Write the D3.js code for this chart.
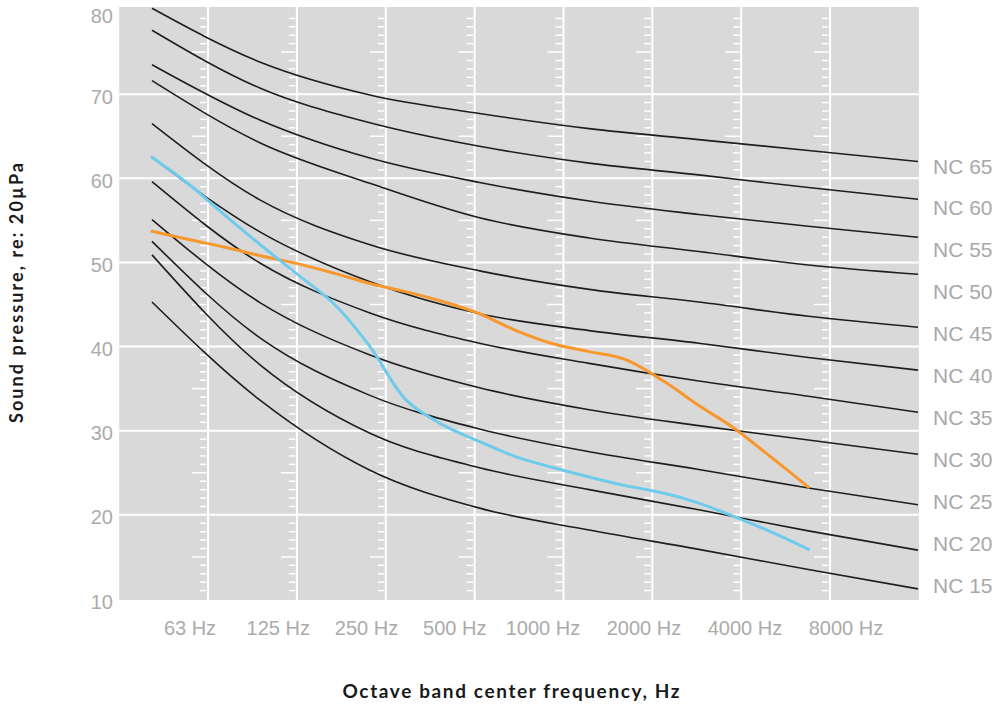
<!DOCTYPE html>
<html>
<head>
<meta charset="utf-8">
<script src="https://cdn.jsdelivr.net/npm/d3@7"></script>
<style>
  body { margin: 0; background: #fff; }
  svg { display: block; }
</style>
</head>
<body>
<svg id="chart"></svg>
<script>
// Octave bands (NC curves) and third-octave bands (measured spectra)
const bandHz = [63, 125, 250, 500, 1000, 2000, 4000, 8000];
const bandLabels = ["63 Hz", "125 Hz", "250 Hz", "500 Hz", "1000 Hz", "2000 Hz", "4000 Hz", "8000 Hz"];
const thirdOctHz = [63, 80, 100, 125, 160, 200, 250, 315, 400, 500, 630, 800, 1000, 1250, 1600, 2000, 2500, 3150, 4000];

// NC curves, dB at each octave band
const nc65 = [80.2, 73.8, 69.9, 67.7, 65.9, 64.6, 63.3, 62.0];
const nc60 = [77.6, 70.7, 66.6, 63.8, 61.8, 60.4, 58.9, 57.5];
const nc55 = [73.5, 66.9, 62.4, 59.5, 57.3, 55.7, 54.3, 53.0];
const nc50 = [71.6, 64.2, 59.4, 55.3, 52.9, 51.3, 49.7, 48.6];
const nc45 = [66.5, 57.4, 52.1, 49.0, 46.8, 45.3, 43.6, 42.3];
const nc40 = [62.5, 53.6, 47.7, 43.9, 41.9, 40.4, 38.7, 37.2];
const nc35 = [59.6, 49.9, 44.0, 40.4, 38.0, 35.9, 34.1, 32.2];
const nc30 = [55.1, 45.2, 39.0, 35.1, 32.5, 30.6, 28.9, 27.2];
const nc25 = [52.5, 41.0, 34.2, 30.2, 27.5, 25.4, 23.2, 21.2];
const nc20 = [50.9, 37.8, 29.7, 25.6, 23.0, 20.6, 18.1, 15.8];
const nc15 = [45.3, 33.6, 25.3, 20.8, 18.2, 15.9, 13.5, 11.2];
const ncNames = ["NC 65", "NC 60", "NC 55", "NC 50", "NC 45", "NC 40", "NC 35", "NC 30", "NC 25", "NC 20", "NC 15"];

// measured spectra
const blueSpectrum = [62.5, 59.2, 55.6, 52.1, 48.4, 45.0, 40.0, 33.6, 30.6, 28.7, 26.9, 25.6, 24.5, 23.5, 22.6, 21.4, 19.8, 18.0, 15.9];
const orangeSpectrum = [53.7, 52.7, 51.8, 50.8, 49.8, 48.7, 47.5, 46.5, 45.3, 43.9, 41.9, 40.3, 39.4, 38.5, 35.9, 33.0, 30.3, 26.9, 23.3];

const yTicks = [10, 20, 30, 40, 50, 60, 70, 80];

const width = 1000, height = 706;
const svg = d3.select("#chart").attr("width", width).attr("height", height);

// scales
const x = d3.scaleLog().base(2).domain([63, 8000]).range([152, 918]);
const gridX = d3.scaleLinear().domain([-1, 8]).range([119.2, 918.9]);
const labelX = d3.scaleLinear().domain([0, 4, 7]).range([190, 543, 846]);
const y = d3.scaleLinear().domain([10, 80]).range([599, 10]);
const ncLabelY = d3.scalePoint().domain(ncNames).range([166, 585]);

const plotTop = 7, plotBottom = 600;

// plot background
svg.append("rect")
    .attr("x", gridX(-1))
    .attr("y", plotTop)
    .attr("width", gridX(8) - gridX(-1))
    .attr("height", plotBottom - plotTop)
    .attr("fill", "#d9d9d9");

// horizontal grid
svg.append("g")
    .selectAll("line")
    .data(yTicks.filter(d => d > 10 && d < 80))
    .enter()
    .append("line")
    .attr("x1", gridX(-1))
    .attr("x2", gridX(8))
    .attr("y1", d => y(d))
    .attr("y2", d => y(d))
    .attr("stroke", "#fff")
    .attr("stroke-width", 2);

// vertical grid
const gridIdx = d3.range(0, 8);
svg.append("g")
    .selectAll("line")
    .data(gridIdx)
    .enter()
    .append("line")
    .attr("x1", d => gridX(d))
    .attr("x2", d => gridX(d))
    .attr("y1", plotTop)
    .attr("y2", plotBottom)
    .attr("stroke", "#fff")
    .attr("stroke-width", 2);

// little dB dashes to the left of every vertical grid line
const dashVals = d3.range(11, 80).filter(v => v % 10 !== 0);
const dashes = svg.append("g");
gridIdx.forEach(i => {
    dashes.selectAll(null)
        .data(dashVals)
        .enter()
        .append("line")
        .attr("x1", v => gridX(i) - (v % 5 === 0 ? 16 : 8))
        .attr("x2", gridX(i) - 1.5)
        .attr("y1", v => y(v))
        .attr("y2", v => y(v))
        .attr("stroke", "#fff")
        .attr("stroke-width", 1.5);
});

// y tick labels
svg.append("g")
    .selectAll("text")
    .data(yTicks)
    .enter()
    .append("text")
    .attr("x", 113)
    .attr("y", d => y(d) + (d === 80 ? 5 : 2))
    .attr("dy", "0.38em")
    .attr("text-anchor", "end")
    .attr("font-family", "Liberation Sans, Arial, sans-serif")
    .attr("font-size", 20)
    .attr("fill", "#ababab")
    .text(d => d);

// x tick labels
svg.append("g")
    .selectAll("text")
    .data(bandLabels)
    .enter()
    .append("text")
    .attr("x", (d, i) => labelX(i))
    .attr("y", 635)
    .attr("text-anchor", "middle")
    .attr("font-family", "Liberation Sans, Arial, sans-serif")
    .attr("font-size", 20)
    .attr("fill", "#ababab")
    .text(d => d);

// NC curves
const ncCurves = [nc65, nc60, nc55, nc50, nc45, nc40, nc35, nc30, nc25, nc20, nc15];
const ncLine = d3.line()
    .x((d, i) => x(bandHz[i]))
    .y(d => y(d))
    .curve(d3.curveMonotoneX);

svg.append("g")
    .selectAll("path")
    .data(ncCurves)
    .enter()
    .append("path")
    .attr("d", ncLine)
    .attr("fill", "none")
    .attr("stroke", "#1e1e1e")
    .attr("stroke-width", 1.6);

// NC labels
svg.append("g")
    .selectAll("text")
    .data(ncNames)
    .enter()
    .append("text")
    .attr("x", 933)
    .attr("y", d => ncLabelY(d))
    .attr("dy", "0.36em")
    .attr("font-family", "Liberation Sans, Arial, sans-serif")
    .attr("font-size", 21)
    .attr("fill", "#a8a8a8")
    .text(d => d);

// measured spectra
const specLine = d3.line()
    .x((d, i) => x(thirdOctHz[i]))
    .y(d => y(d))
    .curve(d3.curveCatmullRom.alpha(0.5));

svg.append("path")
    .attr("d", specLine(orangeSpectrum))
    .attr("fill", "none")
    .attr("stroke", "#f7972c")
    .attr("stroke-width", 3)
    .attr("stroke-linecap", "round");

svg.append("path")
    .attr("d", specLine(blueSpectrum))
    .attr("fill", "none")
    .attr("stroke", "#6fcbec")
    .attr("stroke-width", 3)
    .attr("stroke-linecap", "round");

// axis titles
svg.append("text")
    .attr("x", 511)
    .attr("y", 698)
    .attr("text-anchor", "middle")
    .attr("font-family", "Lato, sans-serif")
    .attr("font-weight", "bold")
    .attr("font-size", 19)
    .attr("fill", "#1a1a1a")
    .attr("textLength", 337)
    .attr("lengthAdjust", "spacing")
    .text("Octave band center frequency, Hz");

svg.append("text")
    .attr("transform", "translate(23,293) rotate(-90)")
    .attr("text-anchor", "middle")
    .attr("font-family", "Lato, sans-serif")
    .attr("font-weight", "bold")
    .attr("font-size", 18)
    .attr("fill", "#1a1a1a")
    .attr("textLength", 260)
    .attr("lengthAdjust", "spacing")
    .text("Sound pressure, re: 20µPa");
</script>
</body>
</html>
